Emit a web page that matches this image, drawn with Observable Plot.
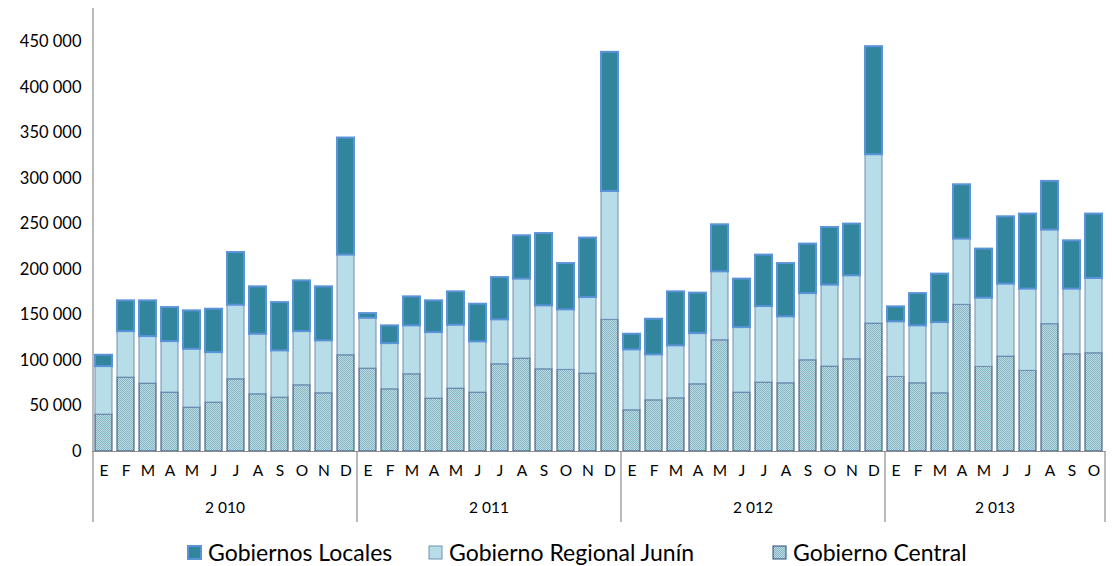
<!DOCTYPE html>
<html>
<head>
<meta charset="utf-8">
<script src="https://cdn.jsdelivr.net/npm/d3@7"></script>
<script src="https://cdn.jsdelivr.net/npm/@observablehq/plot@0.6"></script>
<style>
  html, body { margin: 0; padding: 0; background: #fff; }
  #chart svg { display: block; }
  #legend { position: relative; height: 36px;
            font-family: "Lato", "Open Sans", sans-serif; font-size: 23px; color: #000; }
  .item { position: absolute; top: 6px; display: flex; align-items: center; white-space: nowrap; }
  .item svg { margin-right: 6px; }
</style>
</head>
<body>
<div id="chart"></div>
<div id="legend"></div>
<script>
// ---- data ----
const monthLetters = ["E","F","M","A","M","J","J","A","S","O","N","D"];
const years = ["2 010","2 011","2 012","2 013"];
const monthsPerYear = [12, 12, 12, 10];
const seriesNames = ["Gobiernos Locales", "Gobierno Regional Junín", "Gobierno Central"];

const gobiernoCentral = [
  40500, 81200, 74600, 64700, 48200, 53700, 79400, 62900, 59200, 72800, 64000, 105800,
  91100, 68400, 84900, 58100, 69100, 64700, 95900, 102100, 90400, 89700, 85600, 144700,
  45300, 56300, 58500, 73900, 122300, 64700, 75700, 75000, 100300, 93300, 101400, 140600,
  82000, 75000, 64000, 161200, 93000, 104300, 88600, 140000, 106900, 108000
];
const gobiernoRegional = [
  52800, 50600, 51700, 56100, 64200, 55000, 81400, 66000, 51400, 59000, 57600, 110100,
  55400, 50200, 53200, 72600, 69700, 55800, 48800, 87400, 69700, 66000, 83600, 141100,
  66400, 49900, 57600, 55700, 75200, 71500, 83600, 73000, 73300, 89600, 91700, 185600,
  60500, 63100, 77700, 72300, 75600, 79700, 89900, 103400, 71600, 82200
];
const gobiernosLocales = [
  12500, 33800, 39300, 37400, 42200, 47700, 57900, 52100, 53100, 55800, 59400, 128700,
  5100, 19500, 31900, 34900, 36700, 41400, 46500, 47600, 79500, 50900, 65400, 153000,
  17200, 39200, 59400, 44500, 51700, 53300, 56600, 58600, 54400, 63300, 56900, 118800,
  16500, 35500, 53300, 59700, 53900, 74000, 82500, 53500, 53100, 70800
];
const yTicks = [0, 50000, 100000, 150000, 200000, 250000, 300000, 350000, 400000, 450000];

// ---- build table ----
const rows = [];
const yearRows = [];
const yearStarts = [];
let idx = 0;
monthsPerYear.forEach((n, yi) => {
  yearStarts.push(idx);
  yearRows.push({i: idx + n / 2 - 1, label: years[yi]});
  for (let m = 0; m < n; m++) {
    const c = gobiernoCentral[idx], r = gobiernoRegional[idx], l = gobiernosLocales[idx];
    rows.push({i: idx, month: monthLetters[m], c0: 0, c1: c, r0: c, r1: c + r, l0: c + r, l1: c + r + l});
    idx++;
  }
});
const N = idx;
const left = 92, right = 1105;
const step = (right - left) / N;
const half = step / 2;

const numFmt = d => d3.format(",")(d).replace(/,/g, " ");

const cCentral = "url(#centralPat)";
const cRegional = "#B7DEE8";
const cLocales = "#31859C";

const plot = Plot.plot({
  width: 1113,
  height: 532,
  marginLeft: left,
  marginRight: 1113 - right,
  marginTop: 8,
  marginBottom: 81,
  style: {fontFamily: "Lato, 'Open Sans', sans-serif", fontSize: "16.5px", color: "#000", background: "#fff"},
  x: {type: "band", domain: d3.range(N), paddingInner: 0.23, paddingOuter: 0.115,
      tickSize: 0, tickPadding: 13, tickFormat: i => rows[i].month, label: null},
  y: {domain: [0, 487000], ticks: yTicks, tickSize: 0, tickPadding: 11, tickFormat: numFmt, label: null},
  marks: [
    Plot.barY(rows, {x: "i", y1: "c0", y2: "c1", fill: cCentral, stroke: "#2B4A78", strokeWidth: 1}),
    Plot.barY(rows, {x: "i", y1: "r0", y2: "r1", fill: cRegional, stroke: "#6F8FB5", strokeWidth: 1}),
    Plot.barY(rows, {x: "i", y1: "l0", y2: "l1", fill: cLocales, stroke: "#5B93D8", strokeWidth: 2}),
    Plot.ruleY([0], {stroke: "#8C8C8C", strokeWidth: 1.2}),
    Plot.ruleX([0], {x: d => d, dx: -half, stroke: "#8C8C8C", strokeWidth: 1.2, insetBottom: -71}),
    Plot.ruleX(yearStarts.slice(1), {x: d => d, dx: -half, stroke: "#8C8C8C", strokeWidth: 1.2, insetTop: 443, insetBottom: -71}),
    Plot.ruleX([N - 1], {x: d => d, dx: half, stroke: "#8C8C8C", strokeWidth: 1.2, insetTop: 443, insetBottom: -71}),
    Plot.text(yearRows, {x: "i", text: "label", dx: half, frameAnchor: "bottom", dy: 61, fontSize: 15.5, fill: "#000"})
  ]
});
d3.select(plot).selectAll("[aria-label='x-axis tick label'] text, [aria-label='x-axis'] text").style("font-size", "15.5px");

// pattern for Gobierno Central
function addPattern(svg, id) {
  const defs = d3.select(svg).insert("defs", ":first-child");
  const p = defs.append("pattern").attr("id", id).attr("patternUnits", "userSpaceOnUse")
    .attr("width", 2).attr("height", 2);
  p.append("rect").attr("width", 2).attr("height", 2).attr("fill", "#BCDDE6");
  p.append("rect").attr("x", 0).attr("y", 0).attr("width", 1).attr("height", 1).attr("fill", "#86B3C2");
  p.append("rect").attr("x", 1).attr("y", 1).attr("width", 1).attr("height", 1).attr("fill", "#86B3C2");
}
addPattern(plot, "centralPat");
document.getElementById("chart").appendChild(plot);

// legend
const legendSpecs = [
  {name: seriesNames[0], fill: cLocales, stroke: "#5B93D8", sw: 2, left: 187},
  {name: seriesNames[1], fill: cRegional, stroke: "#6F8FB5", sw: 1, left: 428},
  {name: seriesNames[2], fill: "url(#legPat)", stroke: "#2B4A78", sw: 1, left: 772}
];
const legend = d3.select("#legend");
legendSpecs.forEach((s, k) => {
  const it = legend.append("div").attr("class", "item").style("left", s.left + "px");
  const sv = it.append("svg").attr("width", 15).attr("height", 15);
  if (k === 2) addPattern(sv.node(), "legPat");
  sv.append("rect").attr("x", 1).attr("y", 1).attr("width", 13).attr("height", 13)
    .attr("fill", s.fill).attr("stroke", s.stroke).attr("stroke-width", s.sw);
  it.append("span").text(s.name);
});
</script>
</body>
</html>
